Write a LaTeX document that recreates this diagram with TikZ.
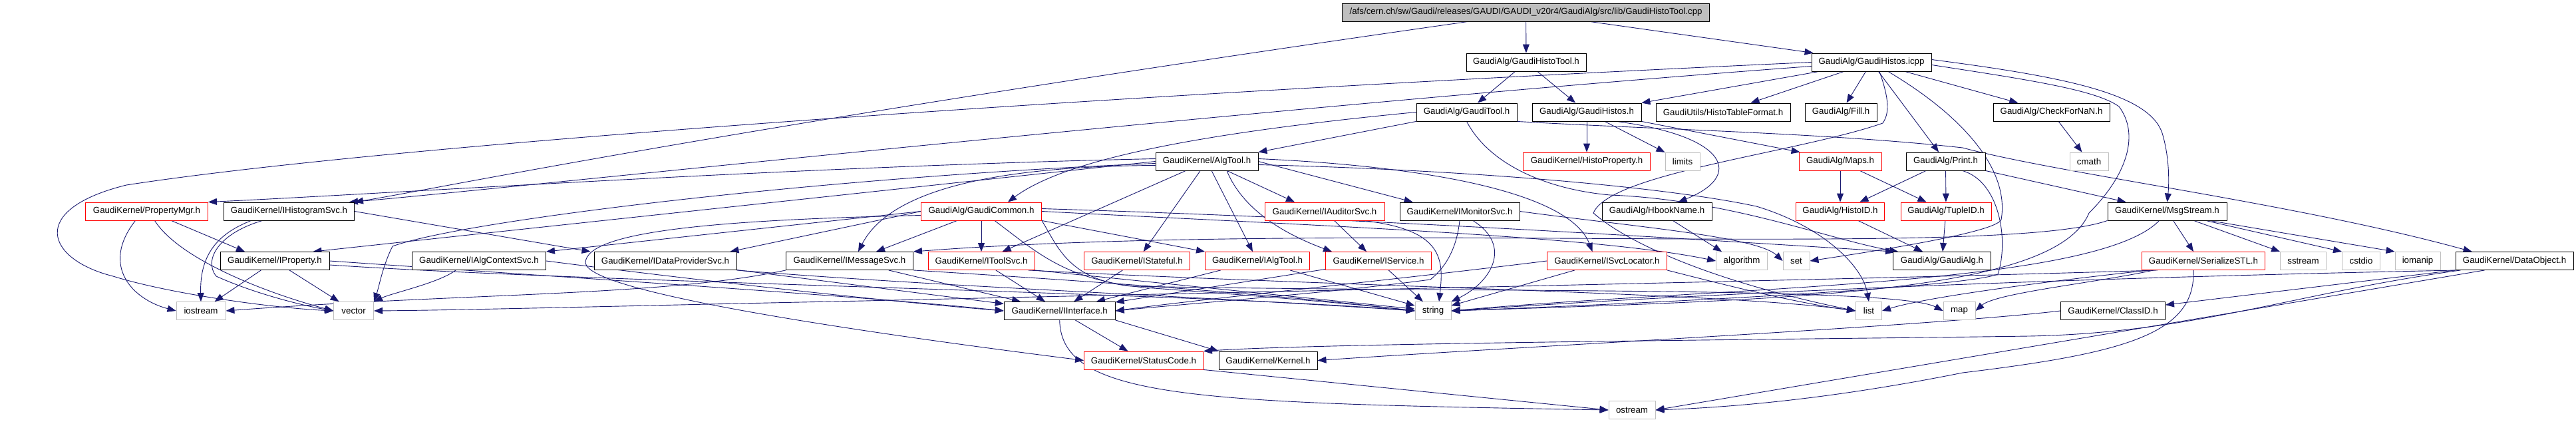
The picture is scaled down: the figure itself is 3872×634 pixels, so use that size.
\documentclass[tikz,border=0pt]{standalone}
\usepackage{fontspec}
\setmainfont{Liberation Sans}
\usetikzlibrary{arrows.meta}
\definecolor{edgecol}{HTML}{191970}
\definecolor{boxgray}{HTML}{BFBFBF}
\pgfdeclarelayer{bglayer}
\pgfdeclarelayer{edgelayer}
\pgfsetlayers{bglayer,edgelayer,main}
\begin{document}
\begin{tikzpicture}[x=1pt,y=-1pt,
  box/.style={draw=black, line width=0.9pt, fill=white, minimum height=27pt, inner sep=0pt, font=\fontsize{13.3}{16}\selectfont},
  redbox/.style={box, draw=red},
  graybox/.style={box, draw=boxgray},
  rootbox/.style={box, fill=boxgray},
  edge/.style={draw=edgecol, line width=0.9pt, -{Triangle[length=13pt,width=10pt]}},
]
\begin{pgfonlayer}{bglayer}
\fill[white] (0,0) rectangle (3872,634);
\end{pgfonlayer}
\useasboundingbox (0,0) rectangle (3872,634);

% row 0
\node[rootbox, minimum width=552pt] (root) at (2293.6,18.5) {/afs/cern.ch/sw/Gaudi/releases/GAUDI/GAUDI\_v20r4/GaudiAlg/src/lib/GaudiHistoTool.cpp};
% row 1
\node[box, minimum width=180pt] (ght) at (2294,93.5) {GaudiAlg/GaudiHistoTool.h};
\node[box, minimum width=180pt] (icpp) at (2813,93.5) {GaudiAlg/GaudiHistos.icpp};
% row 2
\node[box, minimum width=151pt] (gtool) at (2204.5,168.5) {GaudiAlg/GaudiTool.h};
\node[box, minimum width=164pt] (ghist) at (2385,168.5) {GaudiAlg/GaudiHistos.h};
\node[box, minimum width=202pt] (htf) at (2590,168.5) {GaudiUtils/HistoTableFormat.h};
\node[box, minimum width=108pt] (fill) at (2767,168.5) {GaudiAlg/Fill.h};
\node[box, minimum width=175pt] (nan) at (3083.5,168.5) {GaudiAlg/CheckForNaN.h};
% row 3
\node[box, minimum width=154pt] (algtool) at (1814,242.5) {GaudiKernel/AlgTool.h};
\node[redbox, minimum width=191pt] (hprop) at (2385,242.5) {GaudiKernel/HistoProperty.h};
\node[graybox, minimum width=52pt] (limits) at (2529,242.5) {limits};
\node[redbox, minimum width=124pt] (maps) at (2766,242.5) {GaudiAlg/Maps.h};
\node[box, minimum width=119pt] (print) at (2924.5,242.5) {GaudiAlg/Print.h};
\node[graybox, minimum width=58pt] (cmath) at (3140,242.5) {cmath};
% row 4
\node[redbox, minimum width=184pt] (pmgr) at (220.5,317.5) {GaudiKernel/PropertyMgr.h};
\node[box, minimum width=196pt] (ihsvc) at (434.5,317.5) {GaudiKernel/IHistogramSvc.h};
\node[redbox, minimum width=181pt] (gcommon) at (1475,317.5) {GaudiAlg/GaudiCommon.h};
\node[redbox, minimum width=180pt] (iaudit) at (1991,317.5) {GaudiKernel/IAuditorSvc.h};
\node[box, minimum width=180pt] (imon) at (2194,317.5) {GaudiKernel/IMonitorSvc.h};
\node[box, minimum width=165pt] (hbook) at (2490.5,317.5) {GaudiAlg/HbookName.h};
\node[redbox, minimum width=133pt] (histoid) at (2766,317.5) {GaudiAlg/HistoID.h};
\node[redbox, minimum width=136pt] (tupleid) at (2925,317.5) {GaudiAlg/TupleID.h};
\node[box, minimum width=179pt] (msgs) at (3257.5,317.5) {GaudiKernel/MsgStream.h};
% row 5
\node[box, minimum width=164pt] (iprop) at (413,392) {GaudiKernel/IProperty.h};
\node[box, minimum width=201pt] (ialgctx) at (720,392) {GaudiKernel/IAlgContextSvc.h};
\node[box, minimum width=214pt] (idp) at (1000,392) {GaudiKernel/IDataProviderSvc.h};
\node[box, minimum width=191pt] (imsg) at (1277,392) {GaudiKernel/IMessageSvc.h};
\node[redbox, minimum width=160pt] (itool) at (1475,392) {GaudiKernel/IToolSvc.h};
\node[redbox, minimum width=159pt] (istate) at (1709,392) {GaudiKernel/IStateful.h};
\node[redbox, minimum width=157pt] (ialgtool) at (1890,392) {GaudiKernel/IAlgTool.h};
\node[redbox, minimum width=159pt] (iserv) at (2072,392) {GaudiKernel/IService.h};
\node[redbox, minimum width=180pt] (isvcloc) at (2415.5,392) {GaudiKernel/ISvcLocator.h};
\node[graybox, minimum width=77pt] (algo) at (2618,392) {algorithm};
\node[graybox, minimum width=40pt] (set) at (2700,392) {set};
\node[box, minimum width=147pt] (galg) at (2919,392) {GaudiAlg/GaudiAlg.h};
\node[redbox, minimum width=185pt] (sstl) at (3312,392) {GaudiKernel/SerializeSTL.h};
\node[graybox, minimum width=69pt] (sstream) at (3462,392) {sstream};
\node[graybox, minimum width=57pt] (cstdio) at (3549,392) {cstdio};
\node[graybox, minimum width=68pt] (iomanip) at (3634,392) {iomanip};
\node[box, minimum width=177pt] (dobj) at (3779.5,392) {GaudiKernel/DataObject.h};
% row 6
\node[graybox, minimum width=74pt] (iostream) at (302,467) {iostream};
\node[graybox, minimum width=60pt] (vector) at (531.6,467) {vector};
\node[box, minimum width=167pt] (iint) at (1592.7,467) {GaudiKernel/IInterface.h};
\node[graybox, minimum width=54pt] (string) at (2154,467) {string};
\node[graybox, minimum width=39pt] (list) at (2809,467) {list};
\node[graybox, minimum width=48pt] (map) at (2945,467) {map};
\node[box, minimum width=157pt] (classid) at (3176,467) {GaudiKernel/ClassID.h};
% row 7
\node[redbox, minimum width=179pt] (status) at (1719,541.5) {GaudiKernel/StatusCode.h};
\node[box, minimum width=148pt] (kernel) at (1906,541.5) {GaudiKernel/Kernel.h};
% row 8
\node[graybox, minimum width=70pt] (ostream) at (2453,616) {ostream};

\begin{pgfonlayer}{edgelayer}
% root
\draw[edge] (root) -- (ght);
\draw[edge] ([xshift=96pt]root.south) -- ([xshift=3pt]icpp.north west);
\draw[edge] ([xshift=-87pt]root.south) .. controls (1100,190) and (650,285) .. (ihsvc.north east);
% GaudiHistoTool.h
\draw[edge] (ght) -- (gtool);
\draw[edge] (ght) -- (ghist);
% GaudiHistos.icpp
\draw[edge] (icpp) -- (ghist.north east);
\draw[edge] (icpp) -- (htf);
\draw[edge] (icpp) -- (fill);
\draw[edge] (icpp) -- (nan);
\draw[edge] (icpp) -- (print);
\draw[edge] ([yshift=4pt]icpp.east) .. controls (3100,115) and (3230,140) .. (3250,200) .. controls (3262,240) and (3260,280) .. (msgs.north);
\draw[edge] ([yshift=-4pt]icpp.east) .. controls (3050,120) and (3150,135) .. (3185,160) .. controls (3215,200) and (3200,260) .. (3140,320) .. controls (3090,440) and (2700,450) .. (string.east);
\draw[edge] (icpp.west) .. controls (1700,140) and (600,215) .. (190,278) .. controls (40,315) and (70,390) .. (170,415) .. controls (250,440) and (400,462) .. (vector.west);
\draw[edge] ([yshift=-6pt]icpp.west) .. controls (1900,160) and (700,290) .. ([xshift=-8pt]ihsvc.north east);
\draw[edge] ([xshift=12pt]icpp.south) .. controls (2840,150) and (2840,170) .. (2830,185) .. controls (2700,230) and (2420,260) .. (2395,320) .. controls (2440,360) and (2560,420) .. (list.west);
\draw[edge] ([xshift=25pt]icpp.south) .. controls (2960,180) and (3020,260) .. (3008,330) .. controls (3000,350) and (2800,380) .. (set.east);
% GaudiTool.h
\draw[edge] (gtool.south west) -- (algtool.north east);
\draw[edge] (gtool.west) .. controls (1800,200) and (1600,240) .. ([xshift=40pt]gcommon.north);
\draw[edge] (gtool.south) .. controls (2240,250) and (2330,285) .. (2420,293) .. controls (2600,300) and (2750,360) .. ([xshift=8pt]galg.north west);
\draw[edge] (gtool.south east) .. controls (2500,195) and (2750,200) .. (2950,222) .. controls (3100,262) and (3450,305) .. ([xshift=25pt]dobj.north west);
% GaudiHistos.h
\draw[edge] (ghist) -- (hprop);
\draw[edge] (ghist) -- (limits);
\draw[edge] ([xshift=45pt]ghist.south) .. controls (2600,205) and (2620,265) .. ([xshift=32pt]hbook.north);
\draw[edge] (ghist.south east) -- ([xshift=2pt]maps.north west);
% CheckForNaN, Maps, Print
\draw[edge] (nan) -- (cmath);
\draw[edge] (maps) -- (histoid);
\draw[edge] (maps) -- (tupleid);
\draw[edge] (print) -- (histoid);
\draw[edge] (print) -- (tupleid);
\draw[edge] (print.south east) -- ([xshift=28pt]msgs.north west);
\draw[edge] ([xshift=25pt]print.south) .. controls (3005,272) and (3020,360) .. (3003,412) .. controls (2950,432) and (2500,455) .. (string.east);
% AlgTool.h
\draw[edge] ([yshift=4pt]algtool.west) .. controls (1200,250) and (600,290) .. (pmgr.north east);
\draw[edge] (algtool.west) -- ([xshift=-25pt]iprop.north east);
\draw[edge] ([yshift=-6pt]algtool.west) .. controls (1450,250) and (1330,300) .. ([xshift=13pt]imsg.north);
\draw[edge] ([yshift=-3pt]algtool.west) .. controls (1250,265) and (700,330) .. (590,370) .. controls (575,400) and (570,430) .. (vector.north east);
\draw[edge] (algtool) -- (itool);
\draw[edge] (algtool) -- (istate);
\draw[edge] (algtool) -- (ialgtool);
\draw[edge] (algtool) -- ([xshift=-45pt]iaudit.north);
\draw[edge] (algtool.east) -- ([xshift=20pt]imon.north west);
\draw[edge] ([xshift=30pt]algtool.south) .. controls (1870,320) and (1940,355) .. ([xshift=-70pt]iserv.north);
\draw[edge] ([yshift=4pt]algtool.east) .. controls (2150,250) and (2360,290) .. ([xshift=-22pt]isvcloc.north);
\draw[edge] ([yshift=-5pt]algtool.east) .. controls (2200,255) and (2500,280) .. (2640,310) .. controls (2740,340) and (2800,400) .. (list.north);
% GaudiCommon.h
\draw[edge] (gcommon) -- ([xshift=40pt]imsg.north);
\draw[edge] (gcommon) -- (itool);
\draw[edge] (gcommon.south east) -- (ialgtool.north west);
\draw[edge] (gcommon.west) -- ([xshift=-10pt]idp.north east);
\draw[edge] (gcommon.west) -- (ialgctx.north east);
\draw[edge] ([yshift=4pt]gcommon.east) .. controls (2100,330) and (2550,360) .. ([xshift=2pt]galg.north west);
\draw[edge] (gcommon.east) .. controls (2000,340) and (2400,355) .. (algo.west);
\draw[edge] (gcommon.south east) .. controls (1590,370) and (1605,420) .. (1700,430) .. controls (2200,440) and (2850,430) .. (map.west);
\draw[edge] ([xshift=20pt]gcommon.south) .. controls (1560,380) and (1600,420) .. (1720,432) .. controls (1900,445) and (2050,458) .. (string.west);
\draw[edge] ([yshift=-6pt]gcommon.west) .. controls (1100,330) and (880,345) .. (880,395) .. controls (885,440) and (1300,500) .. (status.west);
% row 4 others
\draw[edge] (iaudit) -- ([xshift=-18pt]iserv.north);
\draw[edge] ([xshift=58pt]iaudit.south) .. controls (2170,345) and (2170,390) .. ([xshift=9pt]string.north);
\draw[edge] ([xshift=20pt]imon.south) .. controls (2275,370) and (2240,425) .. (string.north east);
\draw[edge] (imon.south) .. controls (2190,370) and (2175,400) .. (2150,420) .. controls (2000,440) and (1800,455) .. (iint.east);
\draw[edge] (imon.east) .. controls (2450,340) and (2640,355) .. (set.west);
\draw[edge] ([xshift=24pt]hbook.south) -- ([xshift=-30pt]algo.north);
\draw[edge] ([xshift=27pt]histoid.south) -- ([xshift=-29pt]galg.north);
\draw[edge] (tupleid) -- ([xshift=1pt]galg.north);
% MsgStream.h
\draw[edge] (msgs) -- ([xshift=-15pt]sstl.north);
\draw[edge] ([xshift=40pt]msgs.south) -- (sstream.north west);
\draw[edge] ([xshift=58pt]msgs.south) -- (cstdio.north west);
\draw[edge] ([xshift=64pt]msgs.south) -- (iomanip.north west);
\draw[edge] (msgs.south west) .. controls (3000,390) and (2000,330) .. (imsg.north east);
\draw[edge] ([xshift=-12pt]msgs.south) .. controls (3150,430) and (2600,430) .. (string.east);
% SerializeSTL.h
\draw[edge] ([xshift=-15pt]sstl.south) .. controls (3300,500) and (3200,530) .. (2950,560) .. controls (2750,600) and (2600,612) .. (ostream.east);
\draw[edge] ([xshift=12pt]sstl.south west) .. controls (3100,420) and (2900,445) .. (list.east);
\draw[edge] ([xshift=18pt]sstl.south west) .. controls (3150,425) and (3000,440) .. (map.east);
\draw[edge] ([xshift=24pt]sstl.south west) .. controls (2800,420) and (1800,440) .. (1300,452) .. controls (1000,458) and (700,466) .. (vector.east);
% DataObject.h, ClassID.h
\draw[edge] (dobj.south west) -- ([yshift=-5pt]classid.north east);
\draw[edge] ([xshift=-45pt]dobj.south) -- (ostream.east);
\draw[edge] ([xshift=8pt]dobj.south west) .. controls (3450,440) and (3300,500) .. (3050,505) .. controls (2700,510) and (2000,515) .. (status.north east);
\draw[edge] ([xshift=4pt]dobj.south west) .. controls (3000,420) and (2500,445) .. (string.east);
\draw[edge] (classid.west) .. controls (2900,490) and (2300,520) .. (kernel.east);
% PropertyMgr, IHistogramSvc, IProperty
\draw[edge] ([xshift=-17pt]pmgr.south) .. controls (150,400) and (200,450) .. (iostream.west);
\draw[edge] ([xshift=12pt]pmgr.south) .. controls (270,390) and (400,440) .. (vector.west);
\draw[edge] ([xshift=37pt]pmgr.south) -- ([xshift=-45pt]iprop.north);
\draw[edge] ([xshift=-57pt]ihsvc.south) .. controls (330,350) and (300,380) .. (iostream.north);
\draw[edge] ([xshift=-40pt]ihsvc.south) .. controls (330,350) and (305,390) .. (325,415) .. controls (380,440) and (450,458) .. (vector.west);
\draw[edge] (ihsvc.east) -- ([xshift=-5pt]idp.north west);
\draw[edge] (iprop) -- (iostream);
\draw[edge] (iprop) -- (vector);
\draw[edge] (iprop.east) .. controls (900,420) and (1300,445) .. (iint.west);
\draw[edge] ([yshift=-6pt]iprop.east) .. controls (900,425) and (1800,440) .. (string.west);
% row 5 interfaces
\draw[edge] (ialgctx.east) .. controls (1000,415) and (1300,450) .. (iint.west);
\draw[edge] ([xshift=-35pt]ialgctx.south) .. controls (660,425) and (590,440) .. (vector.north east);
\draw[edge] (idp) -- (iint);
\draw[edge] (idp.south east) .. controls (1400,430) and (1800,445) .. (string.west);
\draw[edge] (imsg) -- (iint);
\draw[edge] (imsg.south east) .. controls (1600,420) and (1900,440) .. (string.west);
\draw[edge] (imsg.south west) .. controls (1000,445) and (700,440) .. (iostream.east);
\draw[edge] (itool) -- (iint);
\draw[edge] (itool.south east) -- (string);
\draw[edge] ([xshift=-10pt]itool.south east) .. controls (2000,430) and (2600,440) .. (list.west);
\draw[edge] (istate) -- (iint);
\draw[edge] (ialgtool) -- (iint);
\draw[edge] (ialgtool) -- (string);
\draw[edge] (iserv) -- (iint);
\draw[edge] (iserv) -- (string);
\draw[edge] (isvcloc.west) .. controls (2100,420) and (1800,450) .. (iint.east);
\draw[edge] (isvcloc) -- (string);
\draw[edge] (isvcloc.south east) .. controls (2600,430) and (2700,455) .. (list.west);
% IInterface, StatusCode
\draw[edge] (iint) -- (status);
\draw[edge] (iint.south east) -- (kernel.north west);
\draw[edge] (iint.south) .. controls (1595,600) and (1800,605) .. (ostream.west);
\draw[edge] (status.south east) -- (ostream.west);
\end{pgfonlayer}
\end{tikzpicture}
\end{document}
